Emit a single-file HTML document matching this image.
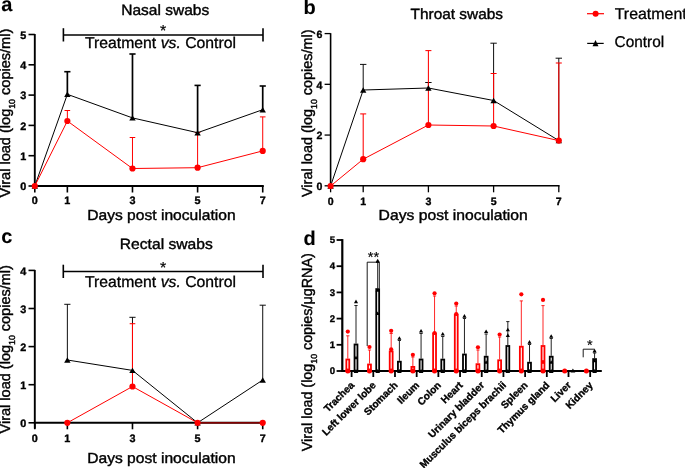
<!DOCTYPE html>
<html><head><meta charset="utf-8"><style>
html,body{margin:0;padding:0;background:#fff;width:685px;height:468px;overflow:hidden}
svg{display:block;font-family:"Liberation Sans", sans-serif;will-change:transform;text-rendering:geometricPrecision}
</style></head><body>
<svg width="685" height="468" viewBox="0 0 685 468" font-family='"Liberation Sans", sans-serif'>
<rect width="685" height="468" fill="#fff"/>
<text x="1.20" y="10.60" font-size="20" font-weight="700" text-anchor="start" fill="#000" stroke="#000" stroke-width="0.1" >a</text>
<text x="303.60" y="13.70" font-size="20" font-weight="700" text-anchor="start" fill="#000" stroke="#000" stroke-width="0.1" >b</text>
<text x="1.20" y="243.00" font-size="20" font-weight="700" text-anchor="start" fill="#000" stroke="#000" stroke-width="0.1" >c</text>
<text x="303.40" y="245.40" font-size="20" font-weight="700" text-anchor="start" fill="#000" stroke="#000" stroke-width="0.1" >d</text>
<line x1="34.80" y1="34.02" x2="34.80" y2="186.00" stroke="#000" stroke-width="1.9" />
<line x1="33.85" y1="186.00" x2="263.80" y2="186.00" stroke="#000" stroke-width="1.9" />
<line x1="28.50" y1="186.00" x2="34.80" y2="186.00" stroke="#000" stroke-width="1.6" />
<text x="26.30" y="190.10" font-size="10.8" font-weight="700" text-anchor="end" fill="#000" stroke="#000" stroke-width="0.35" >0</text>
<line x1="28.50" y1="155.70" x2="34.80" y2="155.70" stroke="#000" stroke-width="1.6" />
<text x="26.30" y="159.80" font-size="10.8" font-weight="700" text-anchor="end" fill="#000" stroke="#000" stroke-width="0.35" >1</text>
<line x1="28.50" y1="125.40" x2="34.80" y2="125.40" stroke="#000" stroke-width="1.6" />
<text x="26.30" y="129.50" font-size="10.8" font-weight="700" text-anchor="end" fill="#000" stroke="#000" stroke-width="0.35" >2</text>
<line x1="28.50" y1="95.10" x2="34.80" y2="95.10" stroke="#000" stroke-width="1.6" />
<text x="26.30" y="99.20" font-size="10.8" font-weight="700" text-anchor="end" fill="#000" stroke="#000" stroke-width="0.35" >3</text>
<line x1="28.50" y1="64.80" x2="34.80" y2="64.80" stroke="#000" stroke-width="1.6" />
<text x="26.30" y="68.90" font-size="10.8" font-weight="700" text-anchor="end" fill="#000" stroke="#000" stroke-width="0.35" >4</text>
<line x1="28.50" y1="34.50" x2="34.80" y2="34.50" stroke="#000" stroke-width="1.6" />
<text x="26.30" y="38.60" font-size="10.8" font-weight="700" text-anchor="end" fill="#000" stroke="#000" stroke-width="0.35" >5</text>
<line x1="34.80" y1="186.00" x2="34.80" y2="192.50" stroke="#000" stroke-width="1.6" />
<text x="34.80" y="204.20" font-size="10.8" font-weight="700" text-anchor="middle" fill="#000" stroke="#000" stroke-width="0.35" >0</text>
<line x1="67.36" y1="186.00" x2="67.36" y2="192.50" stroke="#000" stroke-width="1.6" />
<text x="67.36" y="204.20" font-size="10.8" font-weight="700" text-anchor="middle" fill="#000" stroke="#000" stroke-width="0.35" >1</text>
<line x1="132.48" y1="186.00" x2="132.48" y2="192.50" stroke="#000" stroke-width="1.6" />
<text x="132.48" y="204.20" font-size="10.8" font-weight="700" text-anchor="middle" fill="#000" stroke="#000" stroke-width="0.35" >3</text>
<line x1="197.60" y1="186.00" x2="197.60" y2="192.50" stroke="#000" stroke-width="1.6" />
<text x="197.60" y="204.20" font-size="10.8" font-weight="700" text-anchor="middle" fill="#000" stroke="#000" stroke-width="0.35" >5</text>
<line x1="262.72" y1="186.00" x2="262.72" y2="192.50" stroke="#000" stroke-width="1.6" />
<text x="262.72" y="204.20" font-size="10.8" font-weight="700" text-anchor="middle" fill="#000" stroke="#000" stroke-width="0.35" >7</text>
<text x="121.20" y="15.30" font-size="14.8" font-weight="400" text-anchor="start" fill="#000" stroke="#000" stroke-width="0.4" textLength="88.0" lengthAdjust="spacingAndGlyphs" >Nasal swabs</text>
<text x="87.20" y="219.50" font-size="14.7" font-weight="400" text-anchor="start" fill="#000" stroke="#000" stroke-width="0.4" textLength="148.4" lengthAdjust="spacingAndGlyphs" >Days post inoculation</text>
<text x="10.3" y="197.4" font-size="14.6" stroke="#000" stroke-width="0.4" transform="rotate(-90 10.3 197.4)" textLength="168.7" lengthAdjust="spacingAndGlyphs">Viral load (log<tspan font-size="8.8" dy="4.8">10</tspan><tspan dy="-4.8"> copies/ml)</tspan></text>
<line x1="63.40" y1="34.90" x2="263.00" y2="34.90" stroke="#000" stroke-width="1.5" />
<line x1="63.40" y1="28.20" x2="63.40" y2="41.50" stroke="#000" stroke-width="1.6" />
<line x1="263.00" y1="28.20" x2="263.00" y2="41.50" stroke="#000" stroke-width="1.6" />
<text x="163.20" y="35.80" font-size="16" font-weight="400" text-anchor="middle" fill="#000" stroke="#000" stroke-width="0.2" >*</text>
<text x="85.0" y="48.1" font-size="15.6" stroke="#000" stroke-width="0.3" textLength="151.0" lengthAdjust="spacingAndGlyphs">Treatment <tspan font-style="italic">vs.</tspan> Control</text>
<line x1="67.36" y1="94.30" x2="67.36" y2="71.70" stroke="#000000" stroke-width="1.7" />
<line x1="64.26" y1="71.70" x2="70.46" y2="71.70" stroke="#000000" stroke-width="1.6" />
<line x1="132.48" y1="117.90" x2="132.48" y2="54.00" stroke="#000000" stroke-width="1.7" />
<line x1="129.38" y1="54.00" x2="135.58" y2="54.00" stroke="#000000" stroke-width="1.6" />
<line x1="197.60" y1="132.70" x2="197.60" y2="85.40" stroke="#000000" stroke-width="1.7" />
<line x1="194.50" y1="85.40" x2="200.70" y2="85.40" stroke="#000000" stroke-width="1.6" />
<line x1="262.72" y1="109.70" x2="262.72" y2="86.00" stroke="#000000" stroke-width="1.7" />
<line x1="259.62" y1="86.00" x2="265.82" y2="86.00" stroke="#000000" stroke-width="1.6" />
<line x1="67.36" y1="121.00" x2="67.36" y2="110.50" stroke="#ff0000" stroke-width="1.0" />
<line x1="64.56" y1="110.50" x2="70.16" y2="110.50" stroke="#ff0000" stroke-width="1.0" />
<line x1="132.48" y1="168.50" x2="132.48" y2="137.50" stroke="#ff0000" stroke-width="1.0" />
<line x1="129.68" y1="137.50" x2="135.28" y2="137.50" stroke="#ff0000" stroke-width="1.0" />
<line x1="197.60" y1="167.70" x2="197.60" y2="132.50" stroke="#ff0000" stroke-width="1.0" />
<line x1="194.80" y1="132.50" x2="200.40" y2="132.50" stroke="#ff0000" stroke-width="1.0" />
<line x1="262.72" y1="150.90" x2="262.72" y2="116.90" stroke="#ff0000" stroke-width="1.0" />
<line x1="259.92" y1="116.90" x2="265.52" y2="116.90" stroke="#ff0000" stroke-width="1.0" />
<polyline points="34.80,186.00 67.36,94.30 132.48,117.90 197.60,132.70 262.72,109.70" fill="none" stroke="#000" stroke-width="1.0"/>
<polyline points="34.80,186.00 67.36,121.00 132.48,168.50 197.60,167.70 262.72,150.90" fill="none" stroke="#ff0000" stroke-width="1.0"/>
<polygon points="31.60,188.72 38.00,188.72 34.80,183.28" fill="#000"/>
<polygon points="64.16,97.02 70.56,97.02 67.36,91.58" fill="#000"/>
<polygon points="129.28,120.62 135.68,120.62 132.48,115.18" fill="#000"/>
<polygon points="194.40,135.42 200.80,135.42 197.60,129.98" fill="#000"/>
<polygon points="259.52,112.42 265.92,112.42 262.72,106.98" fill="#000"/>
<circle cx="34.80" cy="186.00" r="3.1" fill="#ff0000"/>
<circle cx="67.36" cy="121.00" r="3.1" fill="#ff0000"/>
<circle cx="132.48" cy="168.50" r="3.1" fill="#ff0000"/>
<circle cx="197.60" cy="167.70" r="3.1" fill="#ff0000"/>
<circle cx="262.72" cy="150.90" r="3.1" fill="#ff0000"/>
<line x1="330.60" y1="33.18" x2="330.60" y2="185.80" stroke="#000" stroke-width="1.6" />
<line x1="329.80" y1="185.80" x2="559.60" y2="185.80" stroke="#000" stroke-width="1.6" />
<line x1="324.60" y1="185.80" x2="330.60" y2="185.80" stroke="#000" stroke-width="1.3" />
<text x="322.40" y="190.00" font-size="10.6" font-weight="700" text-anchor="end" fill="#000" stroke="#000" stroke-width="0.35" >0</text>
<line x1="324.60" y1="135.06" x2="330.60" y2="135.06" stroke="#000" stroke-width="1.3" />
<text x="322.40" y="139.26" font-size="10.6" font-weight="700" text-anchor="end" fill="#000" stroke="#000" stroke-width="0.35" >2</text>
<line x1="324.60" y1="84.32" x2="330.60" y2="84.32" stroke="#000" stroke-width="1.3" />
<text x="322.40" y="88.52" font-size="10.6" font-weight="700" text-anchor="end" fill="#000" stroke="#000" stroke-width="0.35" >4</text>
<line x1="324.60" y1="33.58" x2="330.60" y2="33.58" stroke="#000" stroke-width="1.3" />
<text x="322.40" y="37.78" font-size="10.6" font-weight="700" text-anchor="end" fill="#000" stroke="#000" stroke-width="0.35" >6</text>
<line x1="330.60" y1="185.80" x2="330.60" y2="192.30" stroke="#000" stroke-width="1.3" />
<text x="330.60" y="204.60" font-size="10.6" font-weight="700" text-anchor="middle" fill="#000" stroke="#000" stroke-width="0.35" >0</text>
<line x1="363.20" y1="185.80" x2="363.20" y2="192.30" stroke="#000" stroke-width="1.3" />
<text x="363.20" y="204.60" font-size="10.6" font-weight="700" text-anchor="middle" fill="#000" stroke="#000" stroke-width="0.35" >1</text>
<line x1="428.40" y1="185.80" x2="428.40" y2="192.30" stroke="#000" stroke-width="1.3" />
<text x="428.40" y="204.60" font-size="10.6" font-weight="700" text-anchor="middle" fill="#000" stroke="#000" stroke-width="0.35" >3</text>
<line x1="493.60" y1="185.80" x2="493.60" y2="192.30" stroke="#000" stroke-width="1.3" />
<text x="493.60" y="204.60" font-size="10.6" font-weight="700" text-anchor="middle" fill="#000" stroke="#000" stroke-width="0.35" >5</text>
<line x1="558.80" y1="185.80" x2="558.80" y2="192.30" stroke="#000" stroke-width="1.3" />
<text x="558.80" y="204.60" font-size="10.6" font-weight="700" text-anchor="middle" fill="#000" stroke="#000" stroke-width="0.35" >7</text>
<text x="410.60" y="18.50" font-size="14.8" font-weight="400" text-anchor="start" fill="#000" stroke="#000" stroke-width="0.4" textLength="92.4" lengthAdjust="spacingAndGlyphs" >Throat swabs</text>
<text x="378.60" y="219.50" font-size="14.7" font-weight="400" text-anchor="start" fill="#000" stroke="#000" stroke-width="0.4" textLength="149.2" lengthAdjust="spacingAndGlyphs" >Days post inoculation</text>
<text x="311.8" y="197.0" font-size="14.6" stroke="#000" stroke-width="0.4" transform="rotate(-90 311.8 197.0)" textLength="167.6" lengthAdjust="spacingAndGlyphs">Viral load (log<tspan font-size="8.8" dy="4.8">10</tspan><tspan dy="-4.8"> copies/ml)</tspan></text>
<line x1="363.20" y1="90.00" x2="363.20" y2="64.40" stroke="#000000" stroke-width="0.95" />
<line x1="360.00" y1="64.40" x2="366.40" y2="64.40" stroke="#000000" stroke-width="0.95" />
<line x1="428.40" y1="88.00" x2="428.40" y2="82.50" stroke="#000000" stroke-width="0.95" />
<line x1="425.20" y1="82.50" x2="431.60" y2="82.50" stroke="#000000" stroke-width="0.95" />
<line x1="493.60" y1="100.50" x2="493.60" y2="43.20" stroke="#000000" stroke-width="0.95" />
<line x1="490.40" y1="43.20" x2="496.80" y2="43.20" stroke="#000000" stroke-width="0.95" />
<line x1="558.80" y1="140.60" x2="558.80" y2="58.20" stroke="#000000" stroke-width="0.95" />
<line x1="555.60" y1="58.20" x2="562.00" y2="58.20" stroke="#000000" stroke-width="0.95" />
<line x1="363.20" y1="159.20" x2="363.20" y2="113.90" stroke="#ff0000" stroke-width="1.05" />
<line x1="360.20" y1="113.90" x2="366.20" y2="113.90" stroke="#ff0000" stroke-width="1.05" />
<line x1="428.40" y1="125.00" x2="428.40" y2="50.60" stroke="#ff0000" stroke-width="1.05" />
<line x1="425.40" y1="50.60" x2="431.40" y2="50.60" stroke="#ff0000" stroke-width="1.05" />
<line x1="493.60" y1="126.00" x2="493.60" y2="73.50" stroke="#ff0000" stroke-width="1.05" />
<line x1="490.60" y1="73.50" x2="496.60" y2="73.50" stroke="#ff0000" stroke-width="1.05" />
<line x1="558.80" y1="140.60" x2="558.80" y2="63.00" stroke="#ff0000" stroke-width="1.05" />
<line x1="555.80" y1="63.00" x2="561.80" y2="63.00" stroke="#ff0000" stroke-width="1.05" />
<polyline points="330.60,186.00 363.20,90.00 428.40,88.00 493.60,100.50 558.80,140.60" fill="none" stroke="#000" stroke-width="1.0"/>
<polyline points="330.60,186.00 363.20,159.20 428.40,125.00 493.60,126.00 558.80,140.60" fill="none" stroke="#ff0000" stroke-width="1.0"/>
<polygon points="327.40,188.72 333.80,188.72 330.60,183.28" fill="#000"/>
<polygon points="360.00,92.72 366.40,92.72 363.20,87.28" fill="#000"/>
<polygon points="425.20,90.72 431.60,90.72 428.40,85.28" fill="#000"/>
<polygon points="490.40,103.22 496.80,103.22 493.60,97.78" fill="#000"/>
<polygon points="555.60,143.32 562.00,143.32 558.80,137.88" fill="#000"/>
<circle cx="330.60" cy="186.00" r="3.1" fill="#ff0000"/>
<circle cx="363.20" cy="159.20" r="3.1" fill="#ff0000"/>
<circle cx="428.40" cy="125.00" r="3.1" fill="#ff0000"/>
<circle cx="493.60" cy="126.00" r="3.1" fill="#ff0000"/>
<circle cx="558.80" cy="140.60" r="3.1" fill="#ff0000"/>
<line x1="34.80" y1="269.92" x2="34.80" y2="428.60" stroke="#000" stroke-width="1.9" />
<line x1="33.85" y1="422.80" x2="263.80" y2="422.80" stroke="#000" stroke-width="1.9" />
<line x1="28.50" y1="422.80" x2="34.80" y2="422.80" stroke="#000" stroke-width="1.6" />
<text x="26.30" y="426.90" font-size="10.8" font-weight="700" text-anchor="end" fill="#000" stroke="#000" stroke-width="0.35" >0</text>
<line x1="28.50" y1="384.70" x2="34.80" y2="384.70" stroke="#000" stroke-width="1.6" />
<text x="26.30" y="388.80" font-size="10.8" font-weight="700" text-anchor="end" fill="#000" stroke="#000" stroke-width="0.35" >1</text>
<line x1="28.50" y1="346.60" x2="34.80" y2="346.60" stroke="#000" stroke-width="1.6" />
<text x="26.30" y="350.70" font-size="10.8" font-weight="700" text-anchor="end" fill="#000" stroke="#000" stroke-width="0.35" >2</text>
<line x1="28.50" y1="308.50" x2="34.80" y2="308.50" stroke="#000" stroke-width="1.6" />
<text x="26.30" y="312.60" font-size="10.8" font-weight="700" text-anchor="end" fill="#000" stroke="#000" stroke-width="0.35" >3</text>
<line x1="28.50" y1="270.40" x2="34.80" y2="270.40" stroke="#000" stroke-width="1.6" />
<text x="26.30" y="274.50" font-size="10.8" font-weight="700" text-anchor="end" fill="#000" stroke="#000" stroke-width="0.35" >4</text>
<line x1="34.80" y1="422.80" x2="34.80" y2="429.30" stroke="#000" stroke-width="1.6" />
<text x="34.80" y="442.40" font-size="10.8" font-weight="700" text-anchor="middle" fill="#000" stroke="#000" stroke-width="0.35" >0</text>
<line x1="67.36" y1="422.80" x2="67.36" y2="429.30" stroke="#000" stroke-width="1.6" />
<text x="67.36" y="442.40" font-size="10.8" font-weight="700" text-anchor="middle" fill="#000" stroke="#000" stroke-width="0.35" >1</text>
<line x1="132.48" y1="422.80" x2="132.48" y2="429.30" stroke="#000" stroke-width="1.6" />
<text x="132.48" y="442.40" font-size="10.8" font-weight="700" text-anchor="middle" fill="#000" stroke="#000" stroke-width="0.35" >3</text>
<line x1="197.60" y1="422.80" x2="197.60" y2="429.30" stroke="#000" stroke-width="1.6" />
<text x="197.60" y="442.40" font-size="10.8" font-weight="700" text-anchor="middle" fill="#000" stroke="#000" stroke-width="0.35" >5</text>
<line x1="262.72" y1="422.80" x2="262.72" y2="429.30" stroke="#000" stroke-width="1.6" />
<text x="262.72" y="442.40" font-size="10.8" font-weight="700" text-anchor="middle" fill="#000" stroke="#000" stroke-width="0.35" >7</text>
<text x="119.80" y="249.00" font-size="14.8" font-weight="400" text-anchor="start" fill="#000" stroke="#000" stroke-width="0.4" textLength="93.0" lengthAdjust="spacingAndGlyphs" >Rectal swabs</text>
<text x="87.20" y="462.80" font-size="14.7" font-weight="400" text-anchor="start" fill="#000" stroke="#000" stroke-width="0.4" textLength="148.4" lengthAdjust="spacingAndGlyphs" >Days post inoculation</text>
<text x="10.2" y="433.4" font-size="14.6" stroke="#000" stroke-width="0.4" transform="rotate(-90 10.2 433.4)" textLength="168.3" lengthAdjust="spacingAndGlyphs">Viral load (log<tspan font-size="8.8" dy="4.8">10</tspan><tspan dy="-4.8"> copies/ml)</tspan></text>
<line x1="63.30" y1="271.40" x2="263.00" y2="271.40" stroke="#000" stroke-width="1.5" />
<line x1="63.30" y1="264.70" x2="63.30" y2="278.00" stroke="#000" stroke-width="1.6" />
<line x1="263.00" y1="264.70" x2="263.00" y2="278.00" stroke="#000" stroke-width="1.6" />
<text x="163.15" y="272.80" font-size="16" font-weight="400" text-anchor="middle" fill="#000" stroke="#000" stroke-width="0.2" >*</text>
<text x="85.0" y="286.6" font-size="15.6" stroke="#000" stroke-width="0.3" textLength="151.0" lengthAdjust="spacingAndGlyphs">Treatment <tspan font-style="italic">vs.</tspan> Control</text>
<line x1="67.36" y1="360.00" x2="67.36" y2="304.30" stroke="#000000" stroke-width="0.95" />
<line x1="64.26" y1="304.30" x2="70.46" y2="304.30" stroke="#000000" stroke-width="0.95" />
<line x1="132.48" y1="370.40" x2="132.48" y2="317.30" stroke="#000000" stroke-width="0.95" />
<line x1="129.38" y1="317.30" x2="135.58" y2="317.30" stroke="#000000" stroke-width="0.95" />
<line x1="262.72" y1="380.00" x2="262.72" y2="305.20" stroke="#000000" stroke-width="0.95" />
<line x1="259.62" y1="305.20" x2="265.82" y2="305.20" stroke="#000000" stroke-width="0.95" />
<line x1="132.48" y1="386.50" x2="132.48" y2="323.70" stroke="#ff0000" stroke-width="1.05" />
<line x1="129.68" y1="323.70" x2="135.28" y2="323.70" stroke="#ff0000" stroke-width="1.05" />
<polyline points="67.36,360.00 132.48,370.40 197.60,422.80 262.72,380.00" fill="none" stroke="#000" stroke-width="1.0"/>
<polyline points="67.36,422.80 132.48,386.50 197.60,422.80 262.72,422.80" fill="none" stroke="#ff0000" stroke-width="1.0"/>
<polygon points="64.16,362.72 70.56,362.72 67.36,357.28" fill="#000"/>
<polygon points="129.28,373.12 135.68,373.12 132.48,367.68" fill="#000"/>
<polygon points="194.40,425.52 200.80,425.52 197.60,420.08" fill="#000"/>
<polygon points="259.52,382.72 265.92,382.72 262.72,377.28" fill="#000"/>
<circle cx="67.36" cy="422.80" r="3.1" fill="#ff0000"/>
<circle cx="132.48" cy="386.50" r="3.1" fill="#ff0000"/>
<circle cx="197.60" cy="422.80" r="3.1" fill="#ff0000"/>
<circle cx="262.72" cy="422.80" r="3.1" fill="#ff0000"/>
<line x1="200.60" y1="422.80" x2="259.72" y2="422.80" stroke="#5a0000" stroke-width="0.8" />
<line x1="587.00" y1="13.70" x2="604.00" y2="13.70" stroke="#ff0000" stroke-width="1.2" />
<circle cx="595.60" cy="13.70" r="3.0" fill="#ff0000"/>
<text x="614.70" y="18.50" font-size="15.7" font-weight="400" text-anchor="start" fill="#000" stroke="#000" stroke-width="0.3" textLength="72" lengthAdjust="spacingAndGlyphs" >Treatment</text>
<line x1="587.20" y1="43.40" x2="603.70" y2="43.40" stroke="#000000" stroke-width="1.2" />
<polygon points="592.5,46.3 598.5,46.3 595.5,40.1" fill="#000"/>
<text x="614.60" y="46.60" font-size="15.7" font-weight="400" text-anchor="start" fill="#000" stroke="#000" stroke-width="0.3" textLength="49.6" lengthAdjust="spacingAndGlyphs" >Control</text>
<line x1="342.30" y1="239.10" x2="342.30" y2="371.00" stroke="#000" stroke-width="2.2" />
<line x1="341.20" y1="371.00" x2="601.80" y2="371.00" stroke="#000" stroke-width="2.2" />
<line x1="336.60" y1="371.00" x2="342.30" y2="371.00" stroke="#000" stroke-width="1.8" />
<text x="335.00" y="374.20" font-size="9.6" font-weight="700" text-anchor="end" fill="#000" stroke="#000" stroke-width="0.35" >0</text>
<line x1="336.60" y1="344.80" x2="342.30" y2="344.80" stroke="#000" stroke-width="1.8" />
<text x="335.00" y="348.00" font-size="9.6" font-weight="700" text-anchor="end" fill="#000" stroke="#000" stroke-width="0.35" >1</text>
<line x1="336.60" y1="318.60" x2="342.30" y2="318.60" stroke="#000" stroke-width="1.8" />
<text x="335.00" y="321.80" font-size="9.6" font-weight="700" text-anchor="end" fill="#000" stroke="#000" stroke-width="0.35" >2</text>
<line x1="336.60" y1="292.40" x2="342.30" y2="292.40" stroke="#000" stroke-width="1.8" />
<text x="335.00" y="295.60" font-size="9.6" font-weight="700" text-anchor="end" fill="#000" stroke="#000" stroke-width="0.35" >3</text>
<line x1="336.60" y1="266.20" x2="342.30" y2="266.20" stroke="#000" stroke-width="1.8" />
<text x="335.00" y="269.40" font-size="9.6" font-weight="700" text-anchor="end" fill="#000" stroke="#000" stroke-width="0.35" >4</text>
<line x1="336.60" y1="240.00" x2="342.30" y2="240.00" stroke="#000" stroke-width="1.8" />
<text x="335.00" y="243.20" font-size="9.6" font-weight="700" text-anchor="end" fill="#000" stroke="#000" stroke-width="0.35" >5</text>
<line x1="351.60" y1="371.00" x2="351.60" y2="377.00" stroke="#000" stroke-width="1.8" />
<text x="354.90" y="385.80" font-size="10.1" font-weight="700" stroke="#000" stroke-width="0.35" text-anchor="end" transform="rotate(-45 354.90 385.80)">Trachea</text>
<line x1="373.29" y1="371.00" x2="373.29" y2="377.00" stroke="#000" stroke-width="1.8" />
<text x="376.59" y="385.80" font-size="10.1" font-weight="700" stroke="#000" stroke-width="0.35" text-anchor="end" transform="rotate(-45 376.59 385.80)">Left lower lobe</text>
<line x1="394.98" y1="371.00" x2="394.98" y2="377.00" stroke="#000" stroke-width="1.8" />
<text x="398.28" y="385.80" font-size="10.1" font-weight="700" stroke="#000" stroke-width="0.35" text-anchor="end" transform="rotate(-45 398.28 385.80)">Stomach</text>
<line x1="416.67" y1="371.00" x2="416.67" y2="377.00" stroke="#000" stroke-width="1.8" />
<text x="419.97" y="385.80" font-size="10.1" font-weight="700" stroke="#000" stroke-width="0.35" text-anchor="end" transform="rotate(-45 419.97 385.80)">Ileum</text>
<line x1="438.36" y1="371.00" x2="438.36" y2="377.00" stroke="#000" stroke-width="1.8" />
<text x="441.66" y="385.80" font-size="10.1" font-weight="700" stroke="#000" stroke-width="0.35" text-anchor="end" transform="rotate(-45 441.66 385.80)">Colon</text>
<line x1="460.05" y1="371.00" x2="460.05" y2="377.00" stroke="#000" stroke-width="1.8" />
<text x="463.35" y="385.80" font-size="10.1" font-weight="700" stroke="#000" stroke-width="0.35" text-anchor="end" transform="rotate(-45 463.35 385.80)">Heart</text>
<line x1="481.74" y1="371.00" x2="481.74" y2="377.00" stroke="#000" stroke-width="1.8" />
<text x="485.04" y="385.80" font-size="10.1" font-weight="700" stroke="#000" stroke-width="0.35" text-anchor="end" transform="rotate(-45 485.04 385.80)">Urinary bladder</text>
<line x1="503.43" y1="371.00" x2="503.43" y2="377.00" stroke="#000" stroke-width="1.8" />
<text x="506.73" y="385.80" font-size="10.1" font-weight="700" stroke="#000" stroke-width="0.35" text-anchor="end" transform="rotate(-45 506.73 385.80)">Musculus biceps brachii</text>
<line x1="525.12" y1="371.00" x2="525.12" y2="377.00" stroke="#000" stroke-width="1.8" />
<text x="528.42" y="385.80" font-size="10.1" font-weight="700" stroke="#000" stroke-width="0.35" text-anchor="end" transform="rotate(-45 528.42 385.80)">Spleen</text>
<line x1="546.81" y1="371.00" x2="546.81" y2="377.00" stroke="#000" stroke-width="1.8" />
<text x="550.11" y="385.80" font-size="10.1" font-weight="700" stroke="#000" stroke-width="0.35" text-anchor="end" transform="rotate(-45 550.11 385.80)">Thymus gland</text>
<line x1="568.50" y1="371.00" x2="568.50" y2="377.00" stroke="#000" stroke-width="1.8" />
<text x="571.80" y="385.80" font-size="10.1" font-weight="700" stroke="#000" stroke-width="0.35" text-anchor="end" transform="rotate(-45 571.80 385.80)">Liver</text>
<line x1="590.19" y1="371.00" x2="590.19" y2="377.00" stroke="#000" stroke-width="1.8" />
<text x="593.49" y="385.80" font-size="10.1" font-weight="700" stroke="#000" stroke-width="0.35" text-anchor="end" transform="rotate(-45 593.49 385.80)">Kidney</text>
<line x1="347.80" y1="358.60" x2="347.80" y2="335.80" stroke="#ff0000" stroke-width="0.85" />
<line x1="346.20" y1="335.80" x2="349.40" y2="335.80" stroke="#ff0000" stroke-width="0.85" />
<line x1="356.00" y1="343.60" x2="356.00" y2="305.50" stroke="#222" stroke-width="1.0" />
<line x1="354.40" y1="305.50" x2="357.60" y2="305.50" stroke="#222" stroke-width="1.0" />
<rect x="346.35" y="359.50" width="2.90" height="11.50" fill="#fff" stroke="#ff0000" stroke-width="1.8"/>
<rect x="354.55" y="344.50" width="2.90" height="26.50" fill="#fff" stroke="#000" stroke-width="1.8"/>
<circle cx="347.80" cy="331.60" r="2.1" fill="#ff0000"/>
<circle cx="347.80" cy="371.00" r="2.5" fill="#ff0000"/>
<polygon points="353.90,303.19 358.10,303.19 356.00,299.61" fill="#000"/>
<polygon points="353.90,359.29 358.10,359.29 356.00,355.71" fill="#000"/>
<polygon points="353.60,373.04 358.40,373.04 356.00,368.96" fill="#000"/>
<line x1="369.49" y1="363.60" x2="369.49" y2="350.00" stroke="#ff0000" stroke-width="0.85" />
<line x1="367.89" y1="350.00" x2="371.09" y2="350.00" stroke="#ff0000" stroke-width="0.85" />
<line x1="377.69" y1="288.20" x2="377.69" y2="262.50" stroke="#222" stroke-width="1.0" />
<line x1="376.09" y1="262.50" x2="379.29" y2="262.50" stroke="#222" stroke-width="1.0" />
<rect x="368.04" y="364.50" width="2.90" height="6.50" fill="#fff" stroke="#ff0000" stroke-width="1.8"/>
<rect x="376.24" y="289.10" width="2.90" height="81.90" fill="#fff" stroke="#000" stroke-width="1.8"/>
<circle cx="369.49" cy="347.00" r="2.1" fill="#ff0000"/>
<circle cx="369.49" cy="371.00" r="2.5" fill="#ff0000"/>
<polygon points="375.59,262.29 379.79,262.29 377.69,258.71" fill="#000"/>
<polygon points="375.59,291.79 379.79,291.79 377.69,288.21" fill="#000"/>
<polygon points="375.59,315.09 379.79,315.09 377.69,311.51" fill="#000"/>
<polygon points="375.29,373.04 380.09,373.04 377.69,368.96" fill="#000"/>
<line x1="391.18" y1="350.50" x2="391.18" y2="333.50" stroke="#ff0000" stroke-width="0.85" />
<line x1="389.58" y1="333.50" x2="392.78" y2="333.50" stroke="#ff0000" stroke-width="0.85" />
<line x1="399.38" y1="360.80" x2="399.38" y2="340.50" stroke="#222" stroke-width="1.0" />
<line x1="397.78" y1="340.50" x2="400.98" y2="340.50" stroke="#222" stroke-width="1.0" />
<rect x="389.73" y="351.40" width="2.90" height="19.60" fill="#fff" stroke="#ff0000" stroke-width="1.8"/>
<rect x="397.93" y="361.70" width="2.90" height="9.30" fill="#fff" stroke="#000" stroke-width="1.8"/>
<circle cx="391.18" cy="330.80" r="2.1" fill="#ff0000"/>
<circle cx="391.18" cy="349.30" r="2.1" fill="#ff0000"/>
<circle cx="391.18" cy="371.00" r="2.5" fill="#ff0000"/>
<polygon points="397.28,339.79 401.48,339.79 399.38,336.21" fill="#000"/>
<polygon points="396.98,373.04 401.78,373.04 399.38,368.96" fill="#000"/>
<line x1="412.87" y1="366.00" x2="412.87" y2="357.00" stroke="#ff0000" stroke-width="0.85" />
<line x1="411.27" y1="357.00" x2="414.47" y2="357.00" stroke="#ff0000" stroke-width="0.85" />
<line x1="421.07" y1="358.60" x2="421.07" y2="333.50" stroke="#222" stroke-width="1.0" />
<line x1="419.47" y1="333.50" x2="422.67" y2="333.50" stroke="#222" stroke-width="1.0" />
<rect x="411.42" y="366.90" width="2.90" height="4.10" fill="#fff" stroke="#ff0000" stroke-width="1.8"/>
<rect x="419.62" y="359.50" width="2.90" height="11.50" fill="#fff" stroke="#000" stroke-width="1.8"/>
<circle cx="412.87" cy="354.80" r="2.1" fill="#ff0000"/>
<circle cx="412.87" cy="371.00" r="2.5" fill="#ff0000"/>
<polygon points="418.97,332.59 423.17,332.59 421.07,329.01" fill="#000"/>
<polygon points="418.67,373.04 423.47,373.04 421.07,368.96" fill="#000"/>
<line x1="434.56" y1="332.60" x2="434.56" y2="296.00" stroke="#ff0000" stroke-width="0.85" />
<line x1="432.96" y1="296.00" x2="436.16" y2="296.00" stroke="#ff0000" stroke-width="0.85" />
<line x1="442.76" y1="358.70" x2="442.76" y2="336.50" stroke="#222" stroke-width="1.0" />
<line x1="441.16" y1="336.50" x2="444.36" y2="336.50" stroke="#222" stroke-width="1.0" />
<rect x="433.11" y="333.50" width="2.90" height="37.50" fill="#fff" stroke="#ff0000" stroke-width="1.8"/>
<rect x="441.31" y="359.60" width="2.90" height="11.40" fill="#fff" stroke="#000" stroke-width="1.8"/>
<circle cx="434.56" cy="293.30" r="2.1" fill="#ff0000"/>
<circle cx="434.56" cy="333.00" r="2.1" fill="#ff0000"/>
<circle cx="434.56" cy="371.00" r="2.5" fill="#ff0000"/>
<polygon points="440.66,335.59 444.86,335.59 442.76,332.01" fill="#000"/>
<polygon points="440.36,373.04 445.16,373.04 442.76,368.96" fill="#000"/>
<line x1="456.25" y1="313.80" x2="456.25" y2="306.00" stroke="#ff0000" stroke-width="0.85" />
<line x1="454.65" y1="306.00" x2="457.85" y2="306.00" stroke="#ff0000" stroke-width="0.85" />
<line x1="464.45" y1="353.60" x2="464.45" y2="318.50" stroke="#222" stroke-width="1.0" />
<line x1="462.85" y1="318.50" x2="466.05" y2="318.50" stroke="#222" stroke-width="1.0" />
<rect x="454.80" y="314.70" width="2.90" height="56.30" fill="#fff" stroke="#ff0000" stroke-width="1.8"/>
<rect x="463.00" y="354.50" width="2.90" height="16.50" fill="#fff" stroke="#000" stroke-width="1.8"/>
<circle cx="456.25" cy="303.60" r="2.1" fill="#ff0000"/>
<circle cx="456.25" cy="314.00" r="2.1" fill="#ff0000"/>
<circle cx="456.25" cy="371.00" r="2.5" fill="#ff0000"/>
<polygon points="462.35,317.69 466.55,317.69 464.45,314.11" fill="#000"/>
<polygon points="462.05,373.04 466.85,373.04 464.45,368.96" fill="#000"/>
<line x1="477.94" y1="363.30" x2="477.94" y2="350.00" stroke="#ff0000" stroke-width="0.85" />
<line x1="476.34" y1="350.00" x2="479.54" y2="350.00" stroke="#ff0000" stroke-width="0.85" />
<line x1="486.14" y1="355.80" x2="486.14" y2="334.00" stroke="#222" stroke-width="1.0" />
<line x1="484.54" y1="334.00" x2="487.74" y2="334.00" stroke="#222" stroke-width="1.0" />
<rect x="476.49" y="364.20" width="2.90" height="6.80" fill="#fff" stroke="#ff0000" stroke-width="1.8"/>
<rect x="484.69" y="356.70" width="2.90" height="14.30" fill="#fff" stroke="#000" stroke-width="1.8"/>
<circle cx="477.94" cy="347.30" r="2.1" fill="#ff0000"/>
<circle cx="477.94" cy="371.00" r="2.5" fill="#ff0000"/>
<polygon points="484.04,332.99 488.24,332.99 486.14,329.41" fill="#000"/>
<polygon points="484.04,363.79 488.24,363.79 486.14,360.21" fill="#000"/>
<polygon points="483.74,373.04 488.54,373.04 486.14,368.96" fill="#000"/>
<line x1="499.63" y1="359.40" x2="499.63" y2="337.00" stroke="#ff0000" stroke-width="0.85" />
<line x1="498.03" y1="337.00" x2="501.23" y2="337.00" stroke="#ff0000" stroke-width="0.85" />
<line x1="507.83" y1="345.10" x2="507.83" y2="321.60" stroke="#222" stroke-width="1.0" />
<line x1="506.23" y1="321.60" x2="509.43" y2="321.60" stroke="#222" stroke-width="1.0" />
<rect x="498.18" y="360.30" width="2.90" height="10.70" fill="#fff" stroke="#ff0000" stroke-width="1.8"/>
<rect x="506.38" y="346.00" width="2.90" height="25.00" fill="#fff" stroke="#000" stroke-width="1.8"/>
<circle cx="499.63" cy="334.50" r="2.1" fill="#ff0000"/>
<circle cx="499.63" cy="371.00" r="2.5" fill="#ff0000"/>
<polygon points="505.73,331.29 509.93,331.29 507.83,327.71" fill="#000"/>
<polygon points="505.73,336.89 509.93,336.89 507.83,333.31" fill="#000"/>
<polygon points="505.43,373.04 510.23,373.04 507.83,368.96" fill="#000"/>
<line x1="521.32" y1="345.80" x2="521.32" y2="300.90" stroke="#ff0000" stroke-width="0.85" />
<line x1="519.72" y1="300.90" x2="522.92" y2="300.90" stroke="#ff0000" stroke-width="0.85" />
<line x1="529.52" y1="361.80" x2="529.52" y2="344.50" stroke="#222" stroke-width="1.0" />
<line x1="527.92" y1="344.50" x2="531.12" y2="344.50" stroke="#222" stroke-width="1.0" />
<rect x="519.87" y="346.70" width="2.90" height="24.30" fill="#fff" stroke="#ff0000" stroke-width="1.8"/>
<rect x="528.07" y="362.70" width="2.90" height="8.30" fill="#fff" stroke="#000" stroke-width="1.8"/>
<circle cx="521.32" cy="294.30" r="2.1" fill="#ff0000"/>
<circle cx="521.32" cy="371.00" r="2.5" fill="#ff0000"/>
<polygon points="527.42,343.69 531.62,343.69 529.52,340.11" fill="#000"/>
<polygon points="527.12,373.04 531.92,373.04 529.52,368.96" fill="#000"/>
<line x1="543.01" y1="345.10" x2="543.01" y2="305.60" stroke="#ff0000" stroke-width="0.85" />
<line x1="541.41" y1="305.60" x2="544.61" y2="305.60" stroke="#ff0000" stroke-width="0.85" />
<line x1="551.21" y1="355.80" x2="551.21" y2="338.50" stroke="#222" stroke-width="1.0" />
<line x1="549.61" y1="338.50" x2="552.81" y2="338.50" stroke="#222" stroke-width="1.0" />
<rect x="541.56" y="346.00" width="2.90" height="25.00" fill="#fff" stroke="#ff0000" stroke-width="1.8"/>
<rect x="549.76" y="356.70" width="2.90" height="14.30" fill="#fff" stroke="#000" stroke-width="1.8"/>
<circle cx="543.01" cy="299.90" r="2.1" fill="#ff0000"/>
<circle cx="543.01" cy="362.00" r="2.1" fill="#ff0000"/>
<circle cx="543.01" cy="371.00" r="2.5" fill="#ff0000"/>
<polygon points="549.11,337.79 553.31,337.79 551.21,334.21" fill="#000"/>
<polygon points="549.11,363.79 553.31,363.79 551.21,360.21" fill="#000"/>
<polygon points="548.81,373.04 553.61,373.04 551.21,368.96" fill="#000"/>
<circle cx="564.70" cy="371.00" r="2.5" fill="#ff0000"/>
<polygon points="570.50,372.54 575.30,372.54 572.90,368.46" fill="#000"/>
<line x1="594.59" y1="358.20" x2="594.59" y2="353.00" stroke="#222" stroke-width="1.0" />
<line x1="592.99" y1="353.00" x2="596.19" y2="353.00" stroke="#222" stroke-width="1.0" />
<rect x="593.14" y="359.10" width="2.90" height="11.90" fill="#fff" stroke="#000" stroke-width="1.8"/>
<circle cx="586.39" cy="371.00" r="2.5" fill="#ff0000"/>
<polygon points="592.49,352.39 596.69,352.39 594.59,348.81" fill="#000"/>
<polygon points="592.49,362.29 596.69,362.29 594.59,358.71" fill="#000"/>
<polygon points="592.19,373.04 596.99,373.04 594.59,368.96" fill="#000"/>
<line x1="367.20" y1="262.20" x2="367.20" y2="346.00" stroke="#000" stroke-width="0.9" />
<line x1="367.20" y1="262.20" x2="379.30" y2="262.20" stroke="#000" stroke-width="0.9" />
<line x1="379.30" y1="262.20" x2="379.30" y2="288.00" stroke="#000" stroke-width="0.9" />
<text x="373.50" y="261.70" font-size="14.5" font-weight="400" text-anchor="middle" fill="#000" stroke="#000" stroke-width="0.15" >**</text>
<line x1="583.20" y1="357.30" x2="583.20" y2="349.20" stroke="#000" stroke-width="0.9" />
<line x1="583.20" y1="349.20" x2="594.60" y2="349.20" stroke="#000" stroke-width="0.9" />
<text x="589.90" y="349.60" font-size="14.5" font-weight="400" text-anchor="middle" fill="#000" stroke="#000" stroke-width="0.15" >*</text>
<text x="312.2" y="451.2" font-size="14.6" stroke="#000" stroke-width="0.4" transform="rotate(-90 312.2 451.2)" textLength="198" lengthAdjust="spacingAndGlyphs">Viral load (log<tspan font-size="8.8" dy="4.8">10</tspan><tspan dy="-4.8"> copies/μgRNA)</tspan></text>
</svg>
</body></html>
